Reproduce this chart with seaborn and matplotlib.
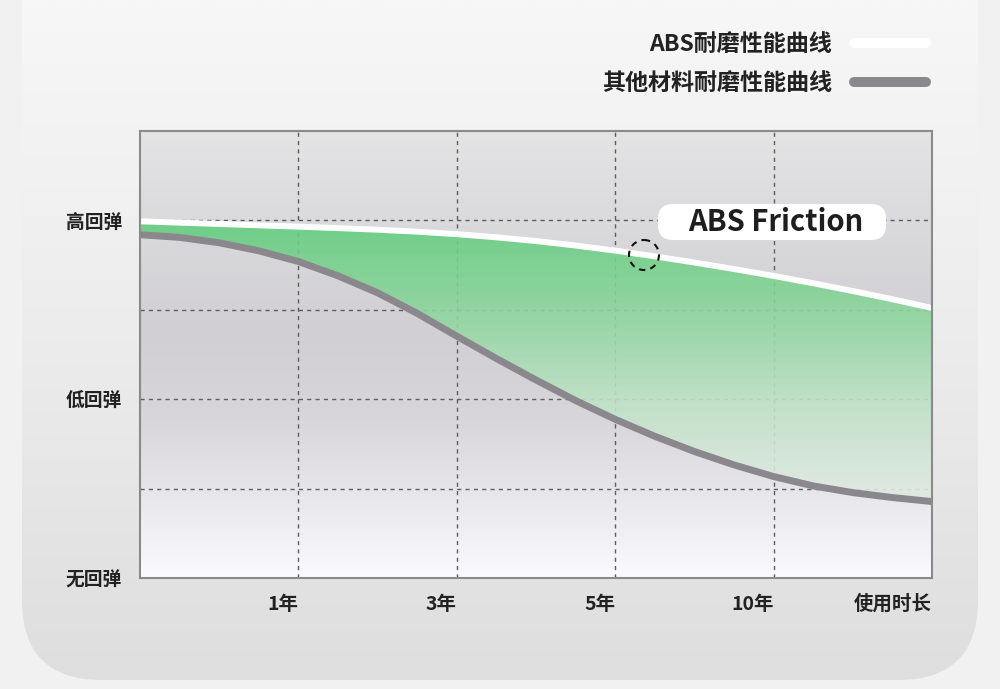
import numpy as np
import pandas as pd
import matplotlib
matplotlib.use('Agg')
import matplotlib.pyplot as plt
import seaborn as sns
from matplotlib.colors import LinearSegmentedColormap
from matplotlib.patches import FancyBboxPatch, Circle

# usage time (grid units: 1 unit = one column of the chart)
years = [0, 0.25, 0.5, 0.75, 1, 1.25, 1.5, 1.75, 2, 2.25, 2.5,
         2.75, 3, 3.25, 3.5, 3.75, 4, 4.25, 4.5, 4.75, 5]
# rebound level (0 = 无回弹, 2 = 低回弹, 4 = 高回弹)
abs_curve = [3.99, 3.975, 3.96, 3.945, 3.93, 3.914, 3.896, 3.874, 3.846, 3.811, 3.769,
             3.719, 3.662, 3.598, 3.529, 3.456, 3.379, 3.297, 3.21, 3.118, 3.021]
other_curve = [3.84, 3.81, 3.75, 3.66, 3.54, 3.38, 3.19, 2.96, 2.705, 2.455, 2.215,
               1.985, 1.775, 1.585, 1.415, 1.265, 1.135, 1.03, 0.955, 0.90, 0.855]

x_ticks = [1, 2, 3, 4, 5]
x_labels = ['1年', '3年', '5年', '10年', '使用时长']
y_ticks = [0, 2, 4]
y_labels = ['无回弹', '低回弹', '高回弹']
legend_names = ['ABS耐磨性能曲线', '其他材料耐磨性能曲线']

df = pd.DataFrame({'years': years, 'abs': abs_curve, 'other': other_curve})

sns.set_style('white')
plt.rcParams['font.family'] = ['Noto Sans CJK SC', 'DejaVu Sans']

fig = plt.figure(figsize=(10, 6.89), dpi=100)
fig.patch.set_facecolor('#f1f1f1')

# background card
bg = fig.add_axes([0, 0, 1, 1], zorder=0)
card = FancyBboxPatch((22, -200), 956, 880, boxstyle='round,pad=0,rounding_size=80',
                      fc='none', ec='none')
bg.add_patch(card)
card_cmap = LinearSegmentedColormap.from_list('card', ['#f7f7f7', '#ececec', '#dedede'])
im = bg.imshow(np.linspace(0, 1, 256).reshape(-1, 1), extent=[22, 978, 680, 0],
               cmap=card_cmap, aspect='auto')
im.set_clip_path(card)
bg.set_xlim(0, 1000)
bg.set_ylim(689, 0)
bg.axis('off')

# main chart
ax = fig.add_axes([0.14, 111 / 689, 0.792, 447 / 689], zorder=1)
ax.set_facecolor('none')
plot_cmap = LinearSegmentedColormap.from_list(
    'plotbg', [(0, '#fbfaff'), (0.12, '#eeedf1'), (0.35, '#d8d6da'),
               (0.55, '#d1cfd3'), (0.75, '#d8d7da'), (1, '#e4e4e5')])
ax.imshow(np.linspace(0, 1, 256).reshape(-1, 1), extent=[0, 5, 0, 5], origin='lower',
          cmap=plot_cmap, aspect='auto', zorder=0)

poly = ax.fill_between(df['years'], df['other'], df['abs'], color='none', lw=0)
green_cmap = LinearSegmentedColormap.from_list(
    'green', [(0, '#e4ebe6'), (0.2, '#dee9e1'), (0.4, '#bde2c5'),
              (0.6, '#8cd59c'), (0.8, '#62cd7e'), (1, '#62cd7e')])
gim = ax.imshow(np.linspace(0, 1, 256).reshape(-1, 1), extent=[0, 5, 0, 5], origin='lower',
                cmap=green_cmap, aspect='auto', zorder=1, alpha=0.9)
gim.set_clip_path(poly.get_paths()[0], ax.transData)

sns.lineplot(data=df, x='years', y='other', color='#8a888c', lw=5, ax=ax, zorder=3,
             solid_joinstyle='round')
sns.lineplot(data=df, x='years', y='abs', color='white', lw=4.3, ax=ax, zorder=4,
             solid_joinstyle='round')

ax.set_xlim(0, 5)
ax.set_ylim(0, 5)
ax.set_xticks(x_ticks)
ax.set_xticklabels(x_labels, ha='right', fontsize=14, weight='bold', color='#222222')
ax.set_yticks(y_ticks)
ax.set_yticklabels(y_labels, fontsize=13.5, weight='bold', color='#222222')
ax.set_yticks([1, 3], minor=True)
ax.tick_params(axis='both', which='both', length=0)
ax.tick_params(axis='x', pad=12)
ax.tick_params(axis='y', pad=13)
ax.set_xlabel('')
ax.set_ylabel('')
ax.set_axisbelow(True)
ax.grid(True, which='both', ls=(0, (3, 3)), color='#5e5e5e', lw=1)
for s in ax.spines.values():
    s.set_visible(True)
    s.set_color('#8a8a8a')
    s.set_linewidth(1.5)
    s.set_zorder(5)

# overlay: legend, label box, marker circle
ov = fig.add_axes([0, 0, 1, 1], zorder=5)
ov.set_xlim(0, 1000)
ov.set_ylim(689, 0)
ov.axis('off')
legend_colors = ['white', '#8a888c']
for i, (name, col) in enumerate(zip(legend_names, legend_colors)):
    yy = 44 + i * 39
    ov.text(832, yy, name, ha='right', va='center', fontsize=16.6, weight='bold', color='#222222')
    ov.plot([854, 926], [yy - 1, yy - 1], color=col, lw=7.2, solid_capstyle='round')

box = FancyBboxPatch((658, 204), 228, 36, boxstyle='round,pad=0,rounding_size=15',
                     fc='white', ec='none')
ov.add_patch(box)
ov.text(776, 222, 'ABS Friction', ha='center', va='center', fontsize=21,
        weight='bold', color='#1e1e1e')
ov.add_patch(Circle((644, 255), 15, fill=False, ec='#111111', lw=1.5, ls=(0, (3, 2.5))))

fig.savefig('out.png', dpi=100)
